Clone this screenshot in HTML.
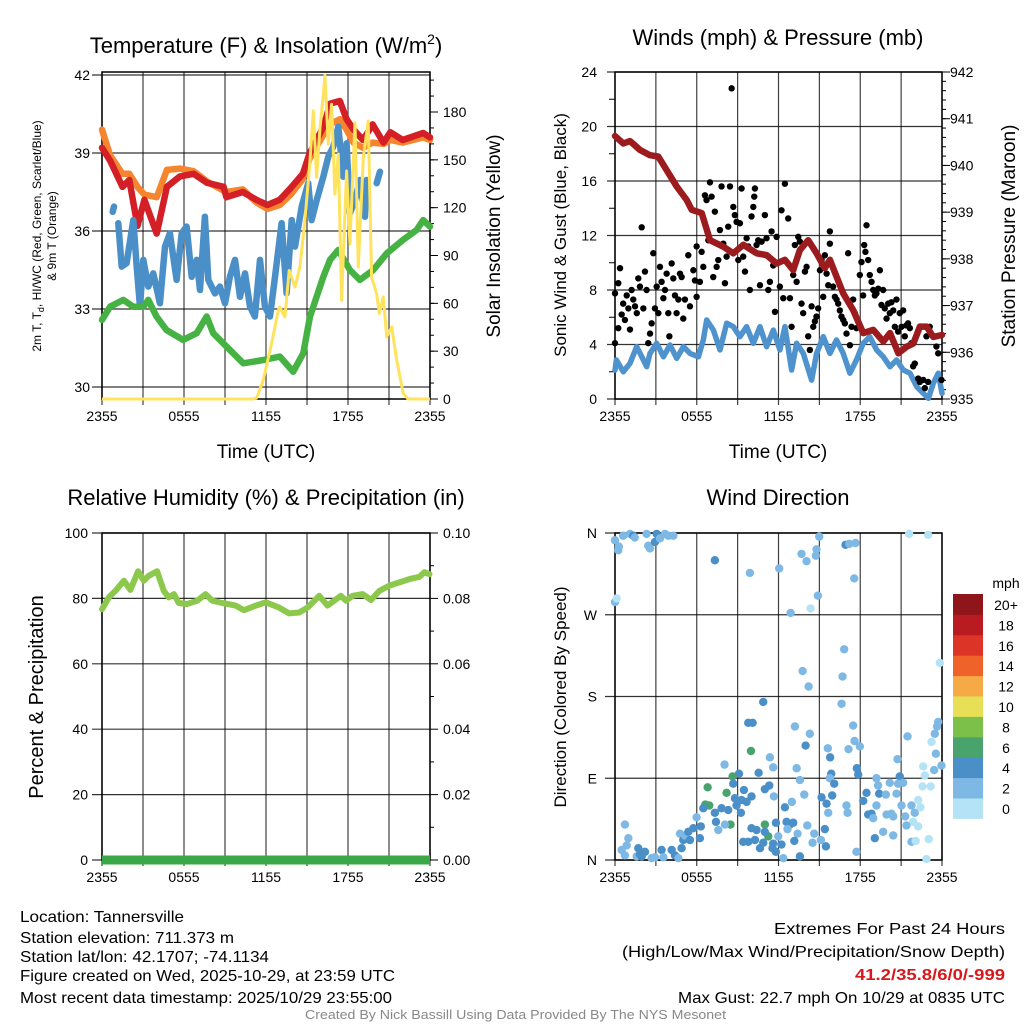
<!DOCTYPE html>
<html><head><meta charset="utf-8"><style>
body{margin:0;background:#fff}
svg{display:block;font-family:"Liberation Sans",Arial,sans-serif}
.tk{font-size:14px;fill:#000}
.ttl{font-size:22px;fill:#000}
.ax{font-size:19px;fill:#000}
.info{font-family:"Liberation Sans Narrow","Liberation Sans",sans-serif;font-size:16px;fill:#000}
</style></head><body>
<svg id="chart" width="1024" height="1024" viewBox="0 0 1024 1024" xmlns="http://www.w3.org/2000/svg">
<rect width="1024" height="1024" fill="#fff"/>
<g id="p1"></g>
<g id="p2"></g>
<g id="p3"></g>
<g id="p4"></g>

<text class="ttl" x="266" y="53" text-anchor="middle">Temperature (F) &amp; Insolation (W/m<tspan dy="-9" font-size="14">2</tspan><tspan dy="9">)</tspan></text>
<text class="ttl" x="778" y="45" text-anchor="middle">Winds (mph) &amp; Pressure (mb)</text>
<text class="ttl" x="266" y="505" text-anchor="middle">Relative Humidity (%) &amp; Precipitation (in)</text>
<text class="ttl" x="778" y="505" text-anchor="middle">Wind Direction</text>

<text class="ax" x="266" y="458" text-anchor="middle">Time (UTC)</text>
<text class="ax" x="778" y="458" text-anchor="middle">Time (UTC)</text>

<text font-size="12" text-anchor="middle" transform="translate(41,236) rotate(-90)">2m T, T<tspan font-size="9" dy="3">d</tspan><tspan dy="-3">, HI/WC (Red, Green, Scarlet/Blue)</tspan></text>
<text font-size="12" text-anchor="middle" transform="translate(56,236) rotate(-90)">&amp; 9m T (Orange)</text>
<text class="ax" text-anchor="middle" transform="translate(500,236) rotate(-90)">Solar Insolation (Yellow)</text>
<text font-size="17" text-anchor="middle" transform="translate(566,235) rotate(-90)">Sonic Wind &amp; Gust (Blue, Black)</text>
<text class="ax" text-anchor="middle" transform="translate(1015,236) rotate(-90)">Station Pressure (Maroon)</text>
<text font-size="20" text-anchor="middle" transform="translate(43,697) rotate(-90)">Percent &amp; Precipitation</text>
<text font-size="17" text-anchor="middle" transform="translate(566,697) rotate(-90)">Direction (Colored By Speed)</text>

<g>
<text class="info" x="20" y="922" textLength="164" lengthAdjust="spacingAndGlyphs">Location: Tannersville</text>
<text class="info" x="20" y="943" textLength="214" lengthAdjust="spacingAndGlyphs">Station elevation: 711.373 m</text>
<text class="info" x="20" y="962" textLength="249" lengthAdjust="spacingAndGlyphs">Station lat/lon: 42.1707; -74.1134</text>
<text class="info" x="20" y="981" textLength="375" lengthAdjust="spacingAndGlyphs">Figure created on Wed, 2025-10-29, at 23:59 UTC</text>
<text class="info" x="20" y="1003" textLength="372" lengthAdjust="spacingAndGlyphs">Most recent data timestamp: 2025/10/29 23:55:00</text>
</g>
<g>
<text class="info" x="774" y="934" textLength="231" lengthAdjust="spacingAndGlyphs">Extremes For Past 24 Hours</text>
<text class="info" x="622" y="957" textLength="383" lengthAdjust="spacingAndGlyphs">(High/Low/Max Wind/Precipitation/Snow Depth)</text>
<text class="info" x="855" y="980" textLength="150" lengthAdjust="spacingAndGlyphs" style="fill:#d7191c;font-weight:bold">41.2/35.8/6/0/-999</text>
<text class="info" x="678" y="1003" textLength="327" lengthAdjust="spacingAndGlyphs">Max Gust: 22.7 mph On 10/29 at 0835 UTC</text>
</g>
<text x="305" y="1019" textLength="421" lengthAdjust="spacingAndGlyphs" font-size="13" fill="#888" style="font-family:'Liberation Sans Narrow','Liberation Sans',sans-serif">Created By Nick Bassill Using Data Provided By The NYS Mesonet</text>
</svg>
<script>
// ---------- data ----------
const timeTicks = ["2355","0555","1155","1755","2355"];
const timeTickHours = [0,6,12,18,24];
const tempTicks = [30,33,36,39,42];
const solarTicks = [0,30,60,90,120,150,180];
const windTicks = [0,4,8,12,16,20,24];
const presTicks = [935,936,937,938,939,940,941,942];
const rhTicks = [0,20,40,60,80,100];
const precipTicks = ["0.00","0.02","0.04","0.06","0.08","0.10"];
const dirTicks = ["N","E","S","W","N"];
const speedBins = ["0","2","4","6","8","10","12","14","16","18","20+"];
const speedColors = ["#b5e3f6","#7db9e4","#4a8fc7","#48a46c","#7cc04a","#e7e057","#f5aa45","#ef6229","#dc3427","#ba1b23","#8e1519"];

const redH = [0,0.6,1.5,2,2.6,3.1,4,4.75,5.7,6.7,7.7,8.9,9.1,10.3,11.3,12.1,13,13.8,14.7,15.2,16.2,16.7,17.4,17.9,18.4,19.1,19.8,20.6,21.1,22,23.5,24];
const redT = [39.2,38.7,37.7,37.96,36.2,37.2,35.9,37.7,38.1,38.2,37.85,37.7,37.3,37.5,37.2,37.0,37.2,37.65,38.2,39.0,40.0,40.9,41.0,40.3,39.9,39.5,40.1,39.4,39.8,39.5,39.77,39.6];
const orangeT = [39.9,38.9,38.2,38.2,37.7,37.4,37.3,38.35,38.4,38.3,37.9,37.55,37.5,37.6,37.1,36.85,37.0,37.4,38.0,38.8,39.7,40.1,40.3,39.9,39.4,39.2,39.4,39.35,39.5,39.4,39.6,39.5];
const blueH = [0.78,0.88,null,1.19,1.44,1.8,2.29,2.54,2.78,3.02,3.39,3.75,4.24,4.61,4.97,5.46,5.83,6.19,6.56,6.93,7.17,7.53,7.78,8.27,8.63,9.0,9.36,9.73,10.1,10.46,10.83,11.19,11.56,11.92,12.29,12.66,13.14,13.51,13.88,14.12,14.61,15.09,15.34,15.71,16.19,16.56,16.92,17.29,17.65,17.9,18.14,18.51,18.87,19.24,19.36,null,20.1,20.34];
const blueT = [36.74,36.94,null,36.3,34.63,34.76,36.42,34.63,33.09,34.89,33.86,34.37,33.22,35.4,35.91,34.12,35.91,36.17,34.24,34.89,33.73,36.55,34.12,33.6,33.86,33.22,34.24,34.89,33.47,34.37,33.09,32.71,34.89,33.09,32.71,34.24,36.3,33.6,36.42,35.4,36.94,37.84,36.42,37.19,38.09,38.86,39.24,40.01,38.09,39.37,36.68,37.19,37.96,36.55,37.96,null,37.84,38.28];
const greenH = [0,0.59,1.56,2.29,3.02,3.39,3.99,4.72,5.94,6.93,7.66,8.14,9.12,10.34,11.8,13.02,13.99,14.73,15.22,16.19,16.68,17.29,18.14,18.87,19.85,20.83,22.04,23.02,23.5,24];
const greenT = [32.58,33.09,33.35,33.09,33.09,33.35,32.71,32.19,31.81,32.07,32.71,32.07,31.55,30.91,31.04,31.17,30.59,31.3,32.71,34.24,34.89,35.27,34.5,34.12,34.5,35.14,35.66,36.04,36.42,36.17];
const solarH = [0,11.0,11.31,11.8,12.41,12.9,13.0,13.38,13.7,14.12,14.48,14.85,15.22,15.46,15.7,15.95,16.19,16.31,16.56,16.8,17.04,17.29,17.53,17.9,18.14,18.51,18.75,19.12,19.48,19.73,20.1,20.29,20.58,20.83,21.2,21.56,22.04,22.4,24];
const solarW = [0,0,0.6,11.9,34.8,55.6,57.7,51.4,80.6,70.2,82.7,111.9,149.4,180.6,139,170,191,203,159.8,184.8,128.6,153.6,61.9,143,97.3,173.3,82.7,151.4,174.4,76.4,66,53.6,64,38.9,45.2,24.4,3.6,0,0];

const presH = [0,0.61,1.1,1.84,2.57,3.18,3.79,4.53,5.26,5.63,6.36,6.97,7.95,8.68,9.42,10.4,11.13,11.86,12.47,13.08,13.57,14.18,14.8,15.4,15.77,16.26,16.75,17.48,18.22,18.96,19.69,20.18,20.8,21.41,21.9,22.38,22.87,23.36,24];
const presMb = [940.63,940.47,940.52,940.33,940.22,940.19,939.9,939.55,939.26,939.05,938.98,938.4,938.26,938.12,938.3,938.12,938.08,937.9,937.98,937.76,938.19,938.4,938.12,937.8,937.98,937.62,937.26,936.9,936.41,936.48,936.23,936.41,935.98,936.12,936.19,936.55,936.55,936.33,936.37];
const windH = [0,0.1,0.61,1.1,1.59,1.84,2.33,2.57,3.06,3.55,4.04,4.53,5.02,5.51,6.12,6.48,6.73,7.22,7.71,8.2,8.68,9.17,9.66,10.15,10.64,11.13,11.62,12.1,12.47,12.96,13.33,13.82,14.43,14.8,15.29,15.77,16.26,16.75,17.24,17.72,18.22,18.7,19.2,19.69,20.18,20.67,21.16,21.65,22.14,22.63,23.0,23.36,23.73,24];
const windMph = [2.13,2.86,2.0,2.62,3.84,3.35,2.37,3.35,4.09,3.1,3.96,2.99,3.84,3.35,3.1,4.33,5.8,5.06,3.6,5.56,5.31,4.57,5.31,4.09,5.31,3.84,5.06,3.6,5.31,2.13,4.09,3.35,1.39,3.35,4.57,3.35,4.33,3.35,1.89,2.86,4.09,4.57,3.6,3.1,2.37,2.86,2.13,1.89,0.9,0.42,0.05,1.15,1.89,0.42];
const gustH = [0,0,0.24,0.37,0.24,0.49,0.6,0.73,0.86,0.98,1.1,1.22,1.34,1.47,1.6,1.71,1.83,1.96,2.08,2.2,2.32,2.44,2.57,2.69,2.81,2.93,3.06,3.18,3.3,3.42,3.55,3.67,3.79,3.91,3.99,4.16,4.28,4.4,4.52,4.65,4.77,4.89,5.01,5.13,5.38,5.5,5.75,5.87,5.99,5.99,6.23,6.36,6.48,6.6,6.72,6.85,6.97,7.09,7.21,7.33,7.46,7.58,7.7,7.82,7.95,8.07,8.19,8.31,8.44,8.56,8.68,8.8,8.92,9.05,9.17,9.29,9.41,9.54,9.66,9.78,9.9,10.02,10.15,10.22,10.27,10.39,10.51,10.64,10.76,11.0,11.12,11.25,11.37,11.49,11.61,11.74,11.86,12.1,12.22,12.35,12.47,12.71,12.84,12.96,13.08,13.2,13.33,13.45,13.57,13.69,13.81,13.94,14.06,14.18,14.3,14.43,14.55,14.67,14.79,14.91,15.04,15.16,15.28,15.4,15.53,15.65,15.77,15.77,16.01,16.14,16.26,16.38,16.5,16.62,16.75,16.87,16.99,17.11,17.24,17.36,17.48,17.6,17.72,17.97,18.09,18.21,18.29,18.38,18.46,18.58,18.7,18.83,18.95,19.07,19.19,19.32,19.44,19.56,19.68,19.8,19.93,20.05,20.17,20.29,20.42,20.54,20.66,20.78,20.9,21.03,21.15,21.27,21.39,21.51,21.64,21.76,21.88,22.0,22.25,22.37,22.62,22.74,22.98,23.59,23.72,23.96,23.1,22.86];
const gustMph = [4.1,7.75,8.5,9.6,5.2,6.2,7.0,5.8,7.6,6.65,5.1,8.0,7.3,6.8,6.3,8.85,8.25,12.6,6.65,9.35,8.0,4.1,4.8,5.55,10.7,6.65,8.25,6.3,9.7,8.6,7.4,8.0,9.2,6.3,4.6,9.95,8.85,7.6,6.3,7.3,9.2,8.95,5.9,7.3,10.55,6.8,9.45,8.7,7.5,11.2,8.6,10.8,9.7,14.95,14.6,11.65,15.9,14.85,8.95,13.75,9.7,10.2,12.4,15.6,11.4,8.5,10.45,12.65,15.6,22.8,14.1,13.5,13.0,10.2,12.9,15.45,10.45,9.35,11.8,11.2,8.0,13.4,14.1,14.85,15.45,11.3,11.65,8.35,11.55,13.5,11.8,8.0,8.6,12.3,9.8,6.4,11.9,8.25,13.85,7.4,15.8,13.25,7.4,5.3,9.1,11.3,8.6,11.9,11.55,7.0,6.3,9.35,9.7,4.6,3.6,6.8,5.3,5.7,6.05,6.65,9.45,10.2,7.5,10.55,9.2,8.35,12.3,11.4,8.25,7.5,7.3,7.0,6.5,6.05,5.8,5.55,4.8,10.7,3.95,5.3,7.3,6.3,5.2,9.1,10.05,7.6,11.3,10.8,12.75,10.2,9.1,8.6,8.0,7.6,7.75,8.1,9.45,6.9,8.0,6.65,5.9,7.0,6.3,7.1,6.5,5.3,7.3,4.95,6.3,5.3,6.5,4.6,5.4,5.55,5.2,4.1,2.4,2.6,1.5,1.25,1.4,0.8,1.25,3.85,3.35,1.4,5.3,4.6];

const rhH = [0,0.5,0.98,1.6,2.08,2.64,3.06,3.42,4.03,4.52,4.89,5.26,5.62,6.23,6.97,7.58,8.07,8.8,9.78,10.39,11.25,11.98,12.96,13.69,14.43,15.04,15.89,16.5,16.99,17.48,17.85,18.34,19.07,19.68,20.29,21.03,21.76,22.49,23.23,23.59,23.96];
const rhPct = [76.7,80.3,82.3,85.4,82.6,88.3,85.4,86.9,88.3,82.3,80.3,81.3,78.6,78.3,79.3,81.3,79.3,78.6,77.8,76.4,77.8,78.8,77.2,75.4,75.7,77.2,80.8,77.8,79.3,80.8,79.3,80.8,81.3,79.5,82.3,83.9,84.9,85.9,86.6,88.0,87.4];
const precipH = [0,24];
const precipIn = [0,0];

const dirH = [0,0.24,0.28,0.6,1.1,1.34,1.45,2.32,2.44,2.57,2.93,3.06,3.3,3.67,3.91,4.28,0,0.12,7.33,9.9,12.05,13.69,14.06,14.74,14.79,14.99,14.89,14.35,12.89,16.92,17.19,17.65,17.56,21.59,22.98,16.82,13.77,16.7,14.21,23.84,10.88,9.78,10.1,13.2,14.3,16.63,17.48,23.72,23.64,23.47,23.23,23.55,21.47,9.98,11.37,11.61,8.04,13.99,15.62,15.79,17.14,17.58,17.97,20.73,22.62,22.74,23.42,23.96,9.1,8.63,8.68,10.54,15.87,17.75,17.85,13.33,13.57,15.77,16.09,20.9,20.78,21.15,6.8,8.19,9.46,10.02,11.0,11.32,11.66,8.8,9.29,9.66,6.63,6.92,6.48,7.33,7.82,8.31,8.92,9.24,12.47,12.98,13.89,15.16,15.53,15.94,15.65,16.99,17.07,18.22,18.46,19.39,19.88,19.19,19.31,20.17,20.66,18.58,18.83,18.95,19.19,19.93,20.29,20.42,21.03,21.3,21.76,22.0,22.25,22.42,22.57,23.17,21.88,22.25,21.39,8.48,11.0,11.25,8.07,5.99,6.3,7.41,7.58,10.02,10.39,11.0,11.81,12.59,12.84,13.08,12.66,14.11,15.4,14.62,13.4,11.98,11.61,12.22,13.16,14.5,15.11,15.48,19.07,19.68,20.42,21.76,22.07,23.03,17.72,22.86,13.57,12.35,9.41,9.78,10.27,10.64,10.88,11.56,11.81,0.49,0.86,0.73,0.98,1.59,1.71,1.83,1.96,2.2,2.69,2.93,3.42,3.55,4.16,4.4,4.65,4.89,4.77,5.01,5.13,5.38,5.5,5.75,6.23,0.73];
const dirDeg = [352,341,345,357,359,357,355,359,346,343,350,359,354,359,357,357,284,288,330,316,321,337,329,335,342,356,291,277,272,347,348,349,310,359,358,232,208,202,191,217,174,151,151,147,139,172,148,152,147,139,130,117,136,120,113,102,105,126,123,113,122,131,125,111,103,93,99,104,95,92,84,96,95,101,94,101,88,90,84,92,84,85,80,74,77,70,78,82,70,68,66,64,61,60,57,52,57,55,60,52,58,64,72,69,62,71,52,60,52,65,74,73,72,90,82,85,73,50,51,46,60,50,51,48,60,48,60,52,66,58,81,81,42,37,38,39,39,26,39,47,37,42,33,35,33,31,41,42,39,41,34,38,34,29,29,26,18,17,21,19,22,15,24,31,27,20,21,23,9,1,4,2,20,20,22,13,19,13,9,11,16,5,24,4,13,6,4,9,2,3,11,3,11,5,2,13,29,22,27,31,22,35,24,39];
const dirSpd = [2,2,2,2,2,4,2,2,2,2,4,4,2,2,2,2,2,0,4,2,2,2,2,2,2,2,2,0,2,4,2,2,2,0,0,2,2,2,2,0,4,4,4,2,2,2,2,2,2,2,0,2,2,6,2,2,2,4,2,4,2,2,2,2,0,0,2,2,4,6,4,4,4,4,4,2,2,2,4,4,2,2,6,6,4,4,4,4,2,4,4,4,6,6,4,4,4,4,4,4,4,2,2,4,4,4,2,2,2,4,4,4,2,2,2,2,2,4,4,2,2,2,2,2,2,2,2,2,0,0,0,0,0,0,2,6,6,6,2,2,4,4,2,4,4,4,4,4,4,4,2,2,4,2,2,2,4,4,4,2,2,4,4,2,2,2,0,0,2,0,4,2,4,4,4,4,4,4,4,2,2,2,2,2,4,4,4,4,2,2,4,2,4,4,2,4,2,4,2,4,4,4,4,2];

// ---------- helpers ----------
const NS = "http://www.w3.org/2000/svg";
function mk(parent, tag, attrs){
  const e = document.createElementNS(NS, tag);
  for (const k in attrs) e.setAttribute(k, attrs[k]);
  parent.appendChild(e);
  return e;
}
function pathFrom(xs, ys, fx, fy){
  let d = "", pen = false;
  for (let i=0;i<xs.length;i++){
    if (xs[i]===null || ys[i]===null){ pen=false; continue; }
    d += (pen?"L":"M") + fx(xs[i]).toFixed(1) + "," + fy(ys[i]).toFixed(1);
    pen = true;
  }
  return d;
}

// ---------- axes ----------
const xT = h => 102 + h*(328/24);
const yT = t => 387 - (t-30)*26;
const yS = s => 399 - s*(287/180);
const xW = h => 615 + h*(327/24);
const yW = m => 399 - m*(327/24);
const yP = p => 399 - (p-935)*(327/7);
const yR = r => 860 - r*3.27;
const yPr = p => 860 - p*3270;
const yD = d => 860 - d*(327/360);

function frame(g, x0, x1, y0, y1, name){
  for (let i=0;i<timeTickHours.length;i++){
    const x = x0 + timeTickHours[i]*(x1-x0)/24;
    const t = mk(g,"text",{x:x,y:y1+22,"text-anchor":"middle","class":"tk"});
    t.textContent = timeTicks[i];
    
    
  }
  for (let k=0;k<=8;k++){
    const x = x0 + k*(x1-x0)/8;
    const l = mk(g,"line",{x1:x,x2:x,y1:y0,y2:y1+6,stroke:"#000","stroke-width":1.2,"stroke-opacity":0.75});
    
    
  }
  const r = mk(g,"rect",{x:x0,y:y0,width:x1-x0,height:y1-y0,fill:"none",stroke:"#000","stroke-width":1.5});
  
  
}
function hgrid(g, y, x0, x1, ext){
  const l = mk(g,"line",{x1:x0-ext,x2:x1,y1:y,y2:y,stroke:"#000","stroke-width":1.2,"stroke-opacity":0.8});
  
  
}
function label(g, x, y, txt, anchor, name){
  const t = mk(g,"text",{x:x,y:y+5,"text-anchor":anchor,"class":"tk"});
  t.textContent = txt;
  
  
}
function rtick(g, x, y, len){
  const l = mk(g,"line",{x1:x,x2:x+len,y1:y,y2:y,stroke:"#000","stroke-width":1});
  
  
}

// ---------- panel 1 ----------
const p1 = document.getElementById("p1");
frame(p1,102,430,72,399,"temperature");
tempTicks.forEach(t=>{ hgrid(p1,yT(t),102,430,10); label(p1,90,yT(t),String(t),"end","temp-tick-label"); });
solarTicks.forEach(s=>{ rtick(p1,430,yS(s),8); label(p1,443,yS(s),String(s),"start","solar-tick-label"); });
for (let s=10;s<=200;s+=10) rtick(p1,430,yS(s),4);
[["orange",orangeT,"#f6852f"],["red",redT,"#d41f26"]].forEach(([n,arr,c])=>{
  const p = mk(p1,"path",{d:pathFrom(redH,arr,xT,yT),fill:"none",stroke:c,"stroke-width":6.5,"stroke-linejoin":"round","stroke-linecap":"round"});
  
  
});
const blueLine = mk(p1,"path",{d:pathFrom(blueH,blueT,xT,yT),fill:"none",stroke:"#4a8fc8","stroke-width":6.5,"stroke-linejoin":"round","stroke-linecap":"round"});


const greenLine = mk(p1,"path",{d:pathFrom(greenH,greenT,xT,yT),fill:"none",stroke:"#46b244","stroke-width":6.5,"stroke-linejoin":"round","stroke-linecap":"round"});


const solarLine = mk(p1,"path",{d:pathFrom(solarH,solarW,xT,yS),fill:"none",stroke:"#ffe35c","stroke-width":3,"stroke-linejoin":"round"});



// ---------- panel 2 ----------
const p2 = document.getElementById("p2");
frame(p2,615,942,72,399,"winds");
windTicks.forEach(m=>{ hgrid(p2,yW(m),615,942,8); label(p2,597,yW(m),String(m),"end","wind-tick-label"); });
for (let m=2;m<24;m+=4) rtick(p2,609,yW(m),6);
presTicks.forEach(p=>{ rtick(p2,942,yP(p),8); label(p2,950,yP(p),String(p),"start","pressure-tick-label"); });
for (let p=935.2;p<942;p+=0.2) rtick(p2,942,yP(p),4);
const windLine = mk(p2,"path",{d:pathFrom(windH,windMph,xW,yW),fill:"none",stroke:"#4e93cd","stroke-width":5.5,"stroke-linejoin":"round","stroke-linecap":"round"});


for (let i=0;i<gustH.length;i++){
  const c = mk(p2,"circle",{cx:xW(gustH[i]),cy:yW(gustMph[i]),r:3.2,fill:"#000"});
  
  
}
const presLine = mk(p2,"path",{d:pathFrom(presH,presMb,xW,yP),fill:"none",stroke:"#9b1b1e","stroke-width":6.5,"stroke-linejoin":"round","stroke-linecap":"round"});



// ---------- panel 3 ----------
const p3 = document.getElementById("p3");
frame(p3,102,430,533,860,"humidity");
rhTicks.forEach((r,i)=>{ hgrid(p3,yR(r),102,430,10); label(p3,88,yR(r),String(r),"end","rh-tick-label"); rtick(p3,430,yR(r),8); label(p3,443,yR(r),precipTicks[i],"start","precip-tick-label"); });
for (let r=10;r<100;r+=20) rtick(p3,430,yR(r),4);
const rhLine = mk(p3,"path",{d:pathFrom(rhH,rhPct,xT,yR),fill:"none",stroke:"#8cc84b","stroke-width":6,"stroke-linejoin":"round","stroke-linecap":"round"});


const prLine = mk(p3,"path",{d:pathFrom(precipH,precipIn,xT,yPr),fill:"none",stroke:"#3aa846","stroke-width":9});



// ---------- panel 4 ----------
const p4 = document.getElementById("p4");
frame(p4,615,942,533,860,"direction");
dirTicks.forEach((d,i)=>{ const y = yD(i*90); hgrid(p4,y,615,942,10); label(p4,597,y,d,"end","direction-tick-label"); });
for (let i=0;i<dirH.length;i++){
  const c = mk(p4,"circle",{cx:xW(dirH[i]),cy:yD(dirDeg[i]),r:4.2,fill:speedColors[dirSpd[i]/2]});
  
  
}
// legend
const lg = mk(p4,"g",{});


const lt = mk(lg,"text",{x:1006,y:588,"text-anchor":"middle","class":"tk"});
lt.textContent = "mph";


for (let i=0;i<speedBins.length;i++){
  const top = 594 + (10-i)*20.4;
  const r = mk(lg,"rect",{x:953,y:top,width:30,height:20.9,fill:speedColors[i]});
  
  
  const t = mk(lg,"text",{x:1006,y:top+16,"text-anchor":"middle","class":"tk"});
  t.textContent = speedBins[i];
  
  
}
</script>
</body></html>
